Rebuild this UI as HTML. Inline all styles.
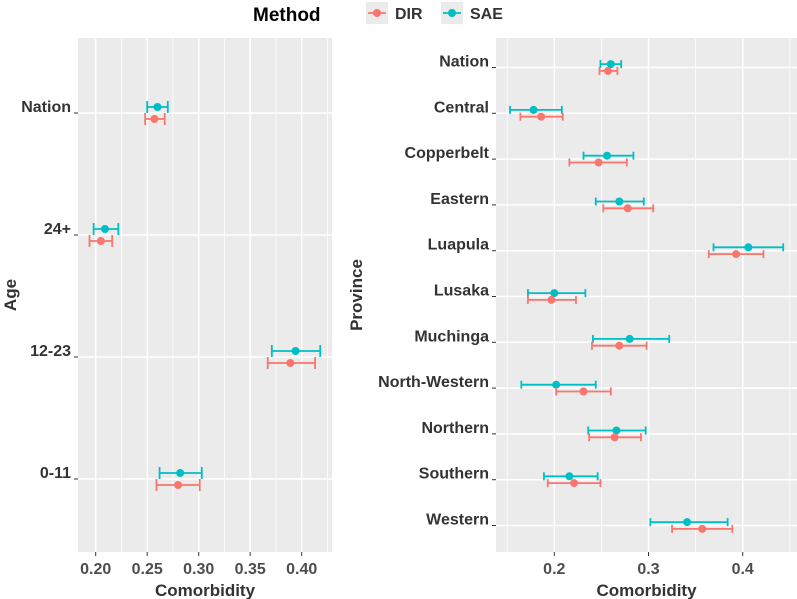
<!DOCTYPE html>
<html><head><meta charset="utf-8"><style>
body{margin:0;background:#fff;}
svg{display:block;font-family:"Liberation Sans",Arial,sans-serif;}
</style></head><body>
<svg id="c" width="797" height="599"></svg>
<script>
const ageCats=["Nation","24+","12-23","0-11"];
const ageSAE=[0.260,0.209,0.394,0.282];
const ageSAElo=[0.250,0.198,0.371,0.262];
const ageSAEhi=[0.270,0.222,0.418,0.303];
const ageDIR=[0.257,0.205,0.389,0.280];
const ageDIRlo=[0.248,0.194,0.367,0.259];
const ageDIRhi=[0.267,0.216,0.413,0.301];
const ageTicks=[0.20,0.25,0.30,0.35,0.40];
const ageTickLabels=["0.20","0.25","0.30","0.35","0.40"];

const provCats=["Nation","Central","Copperbelt","Eastern","Luapula","Lusaka","Muchinga","North-Western","Northern","Southern","Western"];
const provSAE=[0.260,0.178,0.256,0.269,0.406,0.200,0.280,0.202,0.266,0.216,0.341];
const provSAElo=[0.249,0.153,0.231,0.244,0.369,0.172,0.241,0.165,0.236,0.189,0.302];
const provSAEhi=[0.271,0.208,0.284,0.295,0.443,0.233,0.322,0.244,0.297,0.246,0.384];
const provDIR=[0.257,0.186,0.247,0.278,0.393,0.197,0.269,0.231,0.264,0.221,0.357];
const provDIRlo=[0.248,0.164,0.216,0.252,0.364,0.172,0.240,0.202,0.237,0.193,0.325];
const provDIRhi=[0.267,0.209,0.277,0.305,0.422,0.223,0.298,0.260,0.292,0.249,0.389];
const provTicks=[0.2,0.3,0.4];
const provTickLabels=["0.2","0.3","0.4"];

const NS="http://www.w3.org/2000/svg";
const svg=document.getElementById('c');
function mk(tag,attrs,parent,name){const e=document.createElementNS(NS,tag);for(const k in attrs)e.setAttribute(k,attrs[k]);


(parent||svg).appendChild(e);return e;}
const RED="#F8766D",TEAL="#00BFC4";

function panel(o){
  const g=mk('g',{},svg,o.name);
  const x=v=>o.x0+(v-o.v0)*o.k;
  const y=i=>o.y0+i*o.step;
  mk('rect',{x:o.L,y:o.T,width:o.R-o.L,height:o.B-o.T,fill:"#EBEBEB"},g,'plot-background');
  for(let i=0;i<o.ticks.length+1;i++){const v=o.ticks[0]-o.d/2+i*o.d;const px=x(v);
    if(px>o.L&&px<o.R)mk('line',{x1:px,x2:px,y1:o.T,y2:o.B,stroke:"#fff","stroke-width":0.8},g,'minor-gridline');}
  o.ticks.forEach((v,i)=>{const px=x(v);
    mk('line',{x1:px,x2:px,y1:o.T,y2:o.B,stroke:"#fff","stroke-width":1.5},g,'major-gridline');
    mk('line',{x1:px,x2:px,y1:o.B,y2:o.B+4,stroke:"#333","stroke-width":1},g,'x-tick');
    const t=mk('text',{x:px,y:o.B+22,"text-anchor":"middle","font-size":16,"font-weight":"bold",fill:"#4D4D4D"},g,'x-tick-label');t.textContent=o.tickLabels[i];});
  o.cats.forEach((c,i)=>{const py=y(i);
    mk('line',{x1:o.L,x2:o.R,y1:py,y2:py,stroke:"#fff","stroke-width":1.5},g,'y-gridline');
    mk('line',{x1:o.L-4,x2:o.L,y1:py,y2:py,stroke:"#333","stroke-width":1},g,'y-tick');
    const t=mk('text',{x:o.L-7,y:py-1,"text-anchor":"end","font-size":16,"font-weight":"bold",fill:"#333"},g,'y-tick-label');t.textContent=c;
    [[o.sae,o.saelo,o.saehi,TEAL,-o.off,'sae'],[o.dir,o.dirlo,o.dirhi,RED,o.off,'dir']].forEach(s=>{
      const yy=py+s[4],x1=x(s[1][i]),x2=x(s[2][i]);
      mk('line',{x1:x1,x2:x2,y1:yy,y2:yy,stroke:s[3],"stroke-width":1.8},g,s[5]+'-errorbar');
      mk('line',{x1:x1,x2:x1,y1:yy-o.cap,y2:yy+o.cap,stroke:s[3],"stroke-width":1.8},g,s[5]+'-errorbar-cap');
      mk('line',{x1:x2,x2:x2,y1:yy-o.cap,y2:yy+o.cap,stroke:s[3],"stroke-width":1.8},g,s[5]+'-errorbar-cap');
      mk('circle',{cx:x(s[0][i]),cy:yy,r:4,fill:s[3]},g,s[5]+'-point');
    });
  });
  const xt=mk('text',{x:(o.L+o.R)/2,y:596,"text-anchor":"middle","font-size":17,"font-weight":"bold",fill:"#333"},g,'x-axis-title');xt.textContent="Comorbidity";
  const yt=mk('text',{x:0,y:0,transform:`translate(${o.ytx},${(o.T+o.B)/2}) rotate(-90)`,"text-anchor":"middle","font-size":17,"font-weight":"bold",fill:"#333"},g,'y-axis-title');yt.textContent=o.ytitle;
}
panel({name:'age-panel',L:78,R:332,T:38,B:552,x0:95.7,v0:0.2,k:1030,y0:113,step:122,off:6,cap:6,d:0.05,
  cats:ageCats,sae:ageSAE,saelo:ageSAElo,saehi:ageSAEhi,dir:ageDIR,dirlo:ageDIRlo,dirhi:ageDIRhi,
  ticks:ageTicks,tickLabels:ageTickLabels,ytitle:"Age",ytx:16});
panel({name:'province-panel',L:496,R:797,T:38,B:552,x0:554.3,v0:0.2,k:942,y0:67.5,step:45.8,off:3.4,cap:4,d:0.1,
  cats:provCats,sae:provSAE,saelo:provSAElo,saehi:provSAEhi,dir:provDIR,dirlo:provDIRlo,dirhi:provDIRhi,
  ticks:provTicks,tickLabels:provTickLabels,ytitle:"Province",ytx:362});

const lg=mk('g',{},svg,'legend');
const lt=mk('text',{x:253,y:21,"font-size":19,"font-weight":"bold",fill:"#000"},lg,'legend-title');lt.textContent="Method";
[[366,RED,"DIR",390],[441,TEAL,"SAE",465]].forEach(a=>{
  mk('rect',{x:a[0],y:2,width:22,height:22,fill:"#EBEBEB"},lg,'legend-key');
  mk('line',{x1:a[0]+2,x2:a[0]+20,y1:13,y2:13,stroke:a[1],"stroke-width":1.8},lg,'legend-key-line');
  mk('circle',{cx:a[0]+11,cy:13,r:4,fill:a[1]},lg,'legend-key-point');
  const t=mk('text',{x:a[3]+5,y:19,"font-size":16,"font-weight":"bold",fill:"#333"},lg,'legend-entry');t.textContent=a[2];
});
</script>
</body></html>
